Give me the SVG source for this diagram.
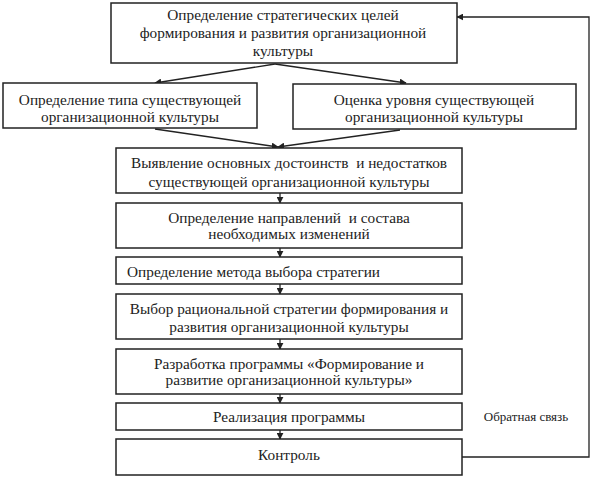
<svg xmlns="http://www.w3.org/2000/svg" width="591" height="477" viewBox="0 0 591 477" font-family="Liberation Serif, Times New Roman, serif">
<style>
.box{fill:#fff;stroke:#222;stroke-width:1.5}
.t{font-size:15.3px;fill:#222;text-anchor:middle;white-space:pre}
.l{text-anchor:start}
.c{fill:none;stroke:#222;stroke-width:1.3}
</style>
<defs>
<marker id="ah" viewBox="0 0 10 10" refX="9" refY="5" markerWidth="7" markerHeight="7" orient="auto" markerUnits="userSpaceOnUse">
<path d="M0,0 L10,5 L0,10 z" fill="#222"/>
</marker>
</defs>
<rect width="591" height="477" fill="#fff"/>
<g id="connectors">
<line class="c" x1="275" y1="64" x2="155" y2="83" marker-end="url(#ah)"/>
<line class="c" x1="275" y1="64" x2="406" y2="83" marker-end="url(#ah)"/>
<line class="c" x1="155" y1="129" x2="278" y2="147" marker-end="url(#ah)"/>
<line class="c" x1="400" y1="130" x2="278" y2="147" marker-end="url(#ah)"/>
<line class="c" x1="280" y1="193" x2="280" y2="203" marker-end="url(#ah)"/>
<line class="c" x1="280" y1="248" x2="280" y2="257" marker-end="url(#ah)"/>
<line class="c" x1="280" y1="284" x2="280" y2="294" marker-end="url(#ah)"/>
<line class="c" x1="280" y1="339" x2="280" y2="349" marker-end="url(#ah)"/>
<line class="c" x1="280" y1="394" x2="280" y2="403" marker-end="url(#ah)"/>
<line class="c" x1="280" y1="430" x2="280" y2="439" marker-end="url(#ah)"/>
<polyline class="c" points="462,457 589,457 589,17 457,17" marker-end="url(#ah)"/>
<text class="t" x="526" y="421" style="font-size:13px">Обратная связь</text>
</g>
<g id="n1">
<rect class="box" x="111" y="3" width="346" height="60"/>
<text class="t" x="283" y="20">Определение стратегических целей</text>
<text class="t" x="283" y="38">формирования и развития организационной</text>
<text class="t" x="283" y="56">культуры</text>
</g>
<g id="n2">
<rect class="box" x="3" y="83" width="254" height="45"/>
<text class="t" x="130" y="105">Определение типа существующей</text>
<text class="t" x="130" y="122">организационной культуры</text>
</g>
<g id="n3">
<rect class="box" x="293" y="84" width="283" height="45"/>
<text class="t" x="434" y="105">Оценка уровня существующей</text>
<text class="t" x="434" y="122">организационной культуры</text>
</g>
<g id="n4">
<rect class="box" x="116" y="148" width="346" height="45"/>
<text class="t" x="289" y="168">Выявление основных достоинств  и недостатков</text>
<text class="t" x="289" y="187">существующей организационной культуры</text>
</g>
<g id="n5">
<rect class="box" x="116" y="203" width="346" height="45"/>
<text class="t" x="289" y="223">Определение направлений  и состава</text>
<text class="t" x="289" y="239">необходимых изменений</text>
</g>
<g id="n6">
<rect class="box" x="116" y="257" width="346" height="27"/>
<text class="t l" x="127" y="277">Определение метода выбора стратегии</text>
</g>
<g id="n7">
<rect class="box" x="116" y="294" width="346" height="45"/>
<text class="t" x="289" y="314">Выбор рациональной стратегии формирования и</text>
<text class="t" x="289" y="332">развития организационной культуры</text>
</g>
<g id="n8">
<rect class="box" x="116" y="349" width="346" height="45"/>
<text class="t" x="289" y="369">Разработка программы «Формирование и</text>
<text class="t" x="289" y="385">развитие организационной культуры»</text>
</g>
<g id="n9">
<rect class="box" x="116" y="403" width="346" height="27"/>
<text class="t" x="289" y="422">Реализация программы</text>
</g>
<g id="n10">
<rect class="box" x="116" y="439" width="346" height="36"/>
<text class="t" x="289" y="460">Контроль</text>
</g>
</svg>
